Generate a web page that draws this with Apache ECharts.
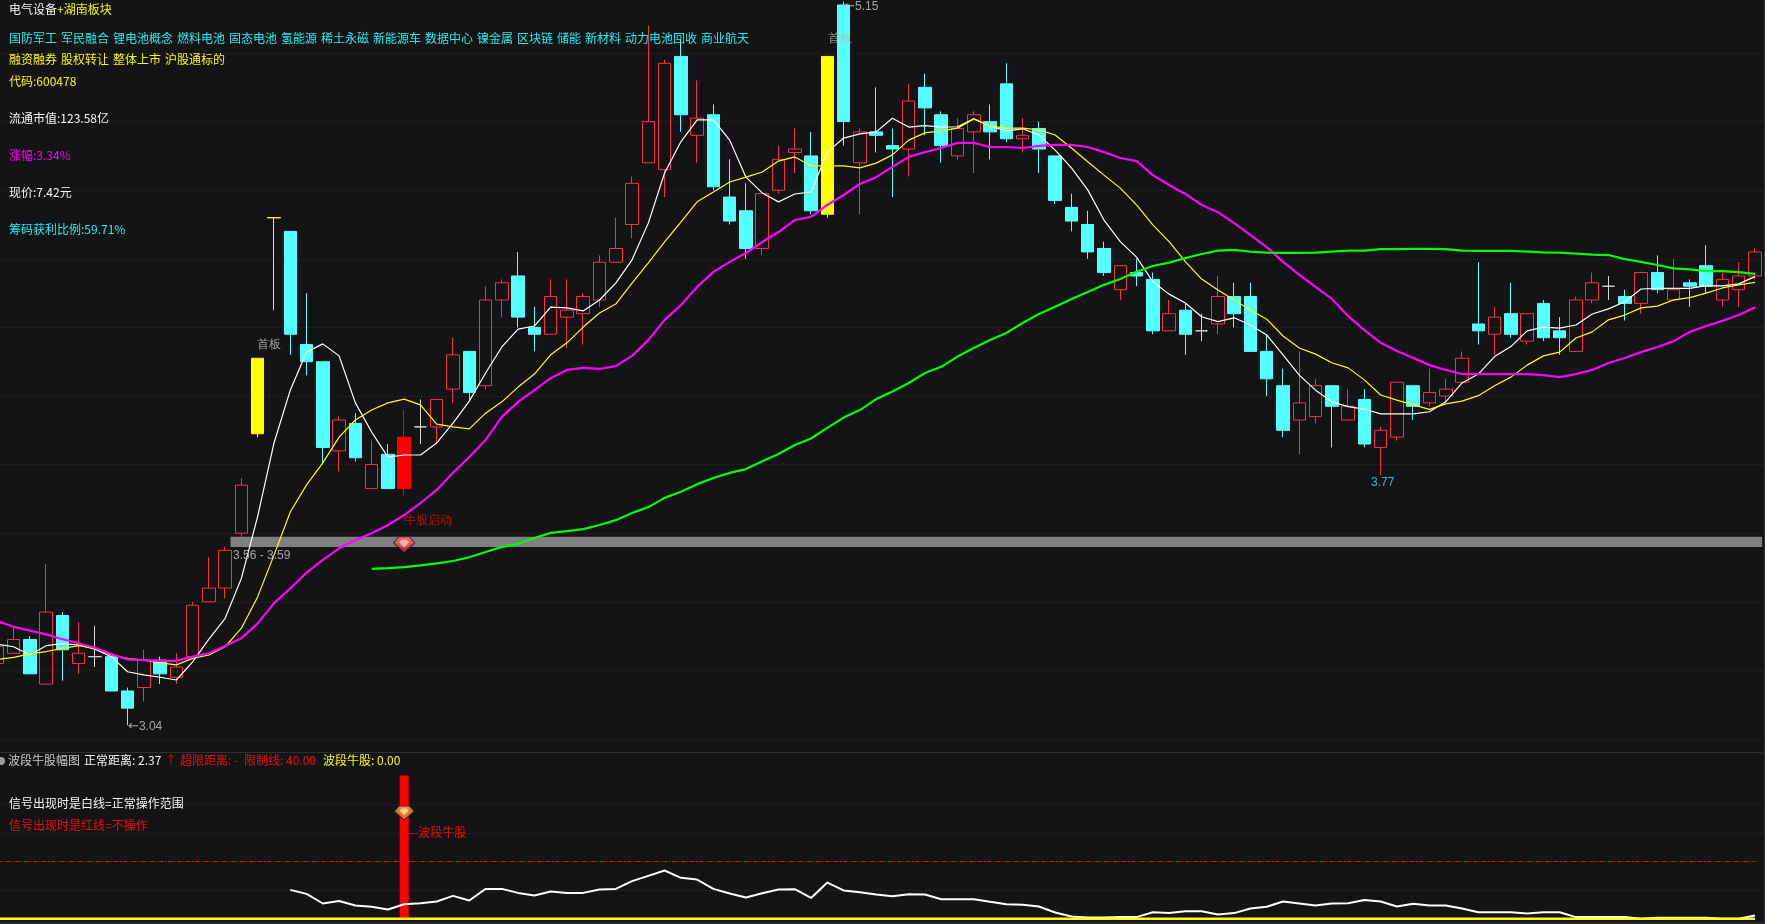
<!DOCTYPE html>
<html>
<head>
<meta charset="utf-8">
<style>html,body{margin:0;padding:0;background:#141315}#c{width:1765px;height:924px}</style>
<script src="https://cdn.jsdelivr.net/npm/echarts@6/dist/echarts.min.js"></script>
</head>
<body>
<div id="c"></div>
<script>
const opens = [3.22,3.25,3.29,3.16,3.36,3.22,3.24,3.24,3.14,3.15,3.23,3.18,3.24,3.40,3.44,3.60,3.89,4.52,4.48,4.15,4.10,3.84,3.92,3.73,3.83,3.73,3.91,3.91,4.02,4.13,4.03,4.28,4.35,4.20,4.18,4.23,4.24,4.28,4.39,4.50,4.68,4.66,4.99,4.76,4.82,4.58,4.54,4.43,4.60,4.71,4.70,4.53,5.14,4.68,4.77,4.73,4.72,4.90,4.82,4.70,4.77,4.80,4.91,4.75,4.78,4.70,4.55,4.50,4.43,4.31,4.36,4.34,4.19,4.25,4.19,4.21,4.29,4.29,4.13,4.03,3.93,3.94,4.03,3.93,3.99,3.85,3.88,4.03,3.98,4.00,4.04,4.21,4.18,4.24,4.16,4.27,4.19,4.13,4.28,4.32,4.29,4.27,4.36,4.28,4.33,4.38,4.28,4.31,4.35];
const closes = [3.27,3.29,3.19,3.37,3.26,3.25,3.24,3.14,3.09,3.23,3.19,3.21,3.39,3.44,3.55,3.74,4.11,4.52,4.18,4.10,3.85,3.93,3.82,3.80,3.73,3.88,3.91,3.99,4.12,4.01,4.28,4.33,4.23,4.18,4.29,4.25,4.29,4.39,4.43,4.62,4.80,4.97,4.82,4.81,4.61,4.51,4.43,4.59,4.69,4.72,4.54,4.99,4.80,4.77,4.76,4.72,4.86,4.84,4.73,4.78,4.82,4.77,4.75,4.76,4.72,4.57,4.51,4.42,4.36,4.38,4.35,4.19,4.24,4.18,4.19,4.29,4.24,4.13,4.05,3.90,3.98,4.03,3.97,3.97,3.86,3.90,4.04,3.97,4.01,4.02,4.11,4.19,4.23,4.18,4.24,4.17,4.17,4.28,4.33,4.32,4.27,4.36,4.31,4.31,4.32,4.32,4.34,4.35,4.42];
const lows = [3.20,3.25,3.19,3.16,3.17,3.19,3.21,3.14,3.04,3.11,3.16,3.16,3.24,3.40,3.41,3.59,3.88,4.25,4.12,4.06,3.80,3.78,3.81,3.73,3.73,3.71,3.86,3.86,3.98,3.99,4.02,4.23,4.20,4.13,4.18,4.14,4.15,4.26,4.39,4.46,4.68,4.58,4.77,4.68,4.60,4.50,4.40,4.41,4.59,4.65,4.53,4.52,4.73,4.53,4.71,4.58,4.64,4.76,4.68,4.69,4.65,4.69,4.74,4.71,4.65,4.56,4.48,4.40,4.35,4.28,4.32,4.18,4.19,4.12,4.16,4.18,4.20,4.13,4.00,3.88,3.83,3.92,3.85,3.93,3.85,3.77,3.87,3.93,3.97,3.98,4.04,4.15,4.12,4.17,4.15,4.16,4.12,4.13,4.27,4.28,4.22,4.24,4.30,4.28,4.26,4.30,4.26,4.26,4.34];
const highs = [3.27,3.33,3.30,3.51,3.37,3.34,3.33,3.24,3.15,3.26,3.24,3.25,3.40,3.53,3.56,3.76,4.11,4.52,4.48,4.30,4.10,3.94,3.95,3.87,3.86,3.96,3.99,3.99,4.17,4.13,4.32,4.34,4.42,4.26,4.34,4.34,4.30,4.41,4.52,4.64,5.08,4.98,5.04,4.92,4.85,4.69,4.62,4.59,4.73,4.78,4.77,4.99,5.15,4.78,4.90,4.78,4.91,4.94,4.83,4.81,4.83,4.85,4.97,4.81,4.80,4.70,4.59,4.54,4.45,4.38,4.40,4.36,4.28,4.27,4.24,4.35,4.33,4.33,4.18,4.08,4.13,4.05,4.03,4.02,4.02,3.91,4.04,4.03,4.08,4.05,4.13,4.39,4.26,4.33,4.24,4.28,4.23,4.29,4.36,4.35,4.31,4.36,4.41,4.40,4.34,4.44,4.36,4.39,4.43];

const maWhite = [3.276,3.269,3.245,3.272,3.278,3.274,3.262,3.240,3.196,3.187,3.180,3.172,3.225,3.291,3.352,3.469,3.650,3.863,4.017,4.128,4.152,4.117,3.980,3.895,3.822,3.828,3.828,3.863,3.921,3.985,4.067,4.143,4.195,4.204,4.259,4.257,4.248,4.280,4.329,4.397,4.504,4.650,4.741,4.805,4.805,4.746,4.638,4.592,4.566,4.589,4.595,4.711,4.752,4.764,4.770,4.810,4.784,4.788,4.784,4.785,4.808,4.787,4.773,4.779,4.761,4.717,4.665,4.601,4.513,4.450,4.405,4.333,4.297,4.271,4.231,4.217,4.228,4.207,4.178,4.120,4.061,4.017,3.983,3.969,3.962,3.948,3.948,3.948,3.954,3.983,4.038,4.064,4.115,4.144,4.190,4.201,4.198,4.207,4.239,4.254,4.275,4.312,4.314,4.314,4.314,4.322,4.321,4.327,4.348];
const maYellow = [3.232,3.238,3.248,3.255,3.264,3.272,3.264,3.245,3.235,3.230,3.222,3.216,3.235,3.245,3.269,3.323,3.415,3.536,3.662,3.741,3.805,3.880,3.930,3.959,3.980,3.991,3.974,3.918,3.910,3.904,3.950,3.983,4.026,4.064,4.120,4.155,4.201,4.242,4.268,4.329,4.388,4.449,4.507,4.566,4.595,4.624,4.638,4.653,4.685,4.697,4.671,4.671,4.671,4.665,4.679,4.703,4.746,4.767,4.773,4.781,4.808,4.787,4.781,4.781,4.776,4.761,4.723,4.683,4.644,4.606,4.557,4.499,4.450,4.392,4.341,4.309,4.280,4.251,4.224,4.175,4.140,4.122,4.097,4.082,4.047,4.003,3.988,3.974,3.961,3.977,3.985,4.001,4.030,4.055,4.090,4.117,4.128,4.169,4.187,4.222,4.236,4.257,4.262,4.280,4.287,4.300,4.315,4.324,4.331];
const maMagenta = [3.344,3.327,3.316,3.305,3.291,3.279,3.266,3.248,3.232,3.230,3.228,3.228,3.240,3.250,3.271,3.294,3.337,3.396,3.439,3.485,3.522,3.556,3.580,3.600,3.624,3.653,3.688,3.726,3.776,3.822,3.872,3.939,3.983,4.017,4.052,4.076,4.082,4.079,4.087,4.117,4.163,4.222,4.265,4.318,4.362,4.391,4.417,4.449,4.478,4.513,4.522,4.557,4.586,4.618,4.638,4.668,4.697,4.711,4.723,4.738,4.738,4.726,4.726,4.723,4.729,4.732,4.732,4.726,4.711,4.694,4.685,4.644,4.615,4.589,4.557,4.536,4.504,4.469,4.434,4.391,4.353,4.318,4.283,4.233,4.192,4.155,4.131,4.111,4.090,4.076,4.064,4.064,4.064,4.064,4.064,4.061,4.055,4.064,4.076,4.096,4.111,4.128,4.143,4.160,4.187,4.204,4.219,4.236,4.259];
const maGreen = [null,null,null,null,null,null,null,null,null,null,null,null,null,null,null,null,null,null,null,null,null,null,null,3.496,3.498,3.501,3.506,3.512,3.519,3.530,3.545,3.560,3.569,3.586,3.601,3.606,3.612,3.624,3.638,3.659,3.676,3.703,3.721,3.743,3.761,3.776,3.787,3.810,3.831,3.857,3.876,3.907,3.937,3.959,3.991,4.013,4.038,4.067,4.085,4.115,4.140,4.163,4.184,4.213,4.239,4.260,4.283,4.303,4.324,4.341,4.362,4.379,4.389,4.402,4.414,4.424,4.426,4.421,4.418,4.417,4.417,4.418,4.421,4.424,4.424,4.428,4.428,4.429,4.429,4.428,4.424,4.423,4.423,4.423,4.421,4.419,4.418,4.415,4.412,4.411,4.399,4.391,4.382,4.372,4.369,4.364,4.364,4.361,4.356];

const normalDistance = [null,null,null,null,null,null,null,null,null,null,null,null,null,null,null,null,null,null,20.2,17.4,10.7,12.5,9.3,8.4,6.5,10.2,10.9,12.1,16.0,12.8,20.9,20.9,18.1,16.3,19.1,18.1,18.1,20.4,20.9,26.3,30.0,33.7,28.6,27.4,20.9,17.7,14.9,17.9,20.4,20.7,14.6,25.3,19.8,18.6,17.0,15.8,17.2,17.0,13.7,13.7,13.7,11.9,10.2,9.8,8.6,4.4,1.6,0.9,0.9,1.2,1.2,4.6,4.0,5.3,5.3,3.0,4.0,7.2,8.4,12.1,10.7,9.3,10.7,10.9,13.2,12.1,8.6,10.5,9.3,9.3,7.2,4.6,4.6,4.6,3.7,4.6,4.6,1.2,1.2,1.2,1.2,0,0.7,0.7,0.7,0.7,0,0,2.37];
const limitValue = 40;
const waveValue = 0;
const signalValue = 100;
const gemPrice = 3.566;
const gemSubValue = 73.8;

const tagsTheme = ['国防军工','军民融合','锂电池概念','燃料电池','固态电池','氢能源','稀土永磁','新能源车','数据中心','镍金属','区块链','储能','新材料','动力电池回收','商业航天'];
const tagsMargin = ['融资融券','股权转让','整体上市','沪股通标的'];

const categories = opens.map((_, i) => 'K' + (i + 1));
const yellowBars = [16, 51];
const solidRedBars = [25];
const limitBar = 17;
const signalBar = 25;
const bandStartBar = 15;

const BG = '#141315', RED = '#f83048', CYAN = '#54ffff', DOJI = '#d6d6d6';
const FONT = '12px "Noto Sans CJK SC","Noto Sans",sans-serif';

const candleData = opens.map((o, i) => {
  const item = { value: [o, closes[i], lows[i], highs[i]] };
  if (yellowBars.includes(i)) item.itemStyle = { color: '#ffff00', borderColor: '#ffff00' };
  if (solidRedBars.includes(i)) item.itemStyle = { color: '#ff0000', borderColor: '#ff0000' };
  return item;
});
const limitTop = opens.map((o, i) => i === limitBar ? [o, closes[i], closes[i], closes[i]] : ['-', '-', '-', '-']);

function note(idx, price, text, color, dx, dy, pos) {
  return { value: [idx, price], label: { show: true, formatter: text, color, offset: [dx, dy], position: pos || 'right', font: FONT, distance: 0,
    rich: { a: { fontFamily: 'DejaVu Sans', fontSize: 13, color } } } };
}
const notes = [
  note(8, 3.04, '{a|←}3.04', '#c8c8c8', 0, 1),
  note(52, 5.15, '{a|←}5.15', '#c8c8c8', 0, 5),
  note(85, 3.77, '3.77', '#58d2f0', 2, 1, 'bottom'),
  note(16, 4.11, '首板', '#c4c4c4', -1, -14),
  note(51, 4.99, '首板', '#b8b8b8', 0, -18),
  note(15, 3.56, '3.56 - 3.59', '#c8c8c8', -9, 9),
  note(25, 3.59, '牛股启动', '#e80f0f', -1, -16)
];

function txt(x, y, text, fill) {
  return { type: 'text', z: 50, silent: true, x, y, style: { text, fill, font: FONT, textVerticalAlign: 'middle' } };
}
const graphics = [
  txt(9, 9.5, '电气设备', '#f4f4f4'), txt(57, 9.5, '+湖南板块', '#f8f800'),
  txt(9, 81, '代码:600478', '#f8f800'),
  txt(9, 118, '流通市值:123.58亿', '#f4f4f4'),
  txt(9, 155, '涨幅:3.34%', '#f800f8'),
  txt(9, 192, '现价:7.42元', '#f4f4f4'),
  txt(9, 229, '筹码获利比例:59.71%', '#22eeee'),
  txt(8, 760.5, '波段牛股幅图', '#c8c8c8'),
  txt(84, 760.5, '正常距离: 2.37', '#f4f4f4'),
  txt(165, 760.5, '↑', '#e80f0f'),
  txt(180, 760.5, '超限距离: -', '#e80f0f'),
  txt(244, 760.5, '限制线: 40.00', '#e80f0f'),
  txt(323, 760.5, '波段牛股: 0.00', '#f8f800'),
  txt(9, 803.5, '信号出现时是白线=正常操作范围', '#f4f4f4'),
  txt(9, 825.5, '信号出现时是红线=不操作', '#e80f0f'),
  txt(410, 832, '--波段牛股', '#e80f0f'),
  { type: 'circle', z: 50, silent: true, shape: { cx: 1, cy: 761, r: 4 }, style: { fill: '#9a9a9a' } },
  { type: 'line', z: 40, silent: true, shape: { x1: 0, y1: 752.5, x2: 1765, y2: 752.5 }, style: { stroke: '#303034', lineWidth: 1 } },
  { type: 'line', z: 40, silent: true, shape: { x1: 0, y1: 923, x2: 1765, y2: 923 }, style: { stroke: '#3a3a3e', lineWidth: 1 } },
  { type: 'line', z: 40, silent: true, shape: { x1: 1764.5, y1: 0, x2: 1764.5, y2: 924 }, style: { stroke: '#303034', lineWidth: 1 } }
];
let tx = 9;
tagsTheme.forEach(t => { graphics.push(txt(tx, 38, t, '#22eeee')); tx += t.length * 12 + 4; });
tx = 9;
tagsMargin.forEach(t => { graphics.push(txt(tx, 59.5, t, '#f8f800')); tx += t.length * 12 + 4; });

const gemPath = 'path://M5 0 H16 L21 6 L10.5 16 L0 6 Z';
const gemFacet = 'path://M3 0 H9 L12 3 L6 10 L0 3 Z';
function gemStyle(top, bottom) {
  return { color: { type: 'linear', x: 0, y: 0, x2: 0, y2: 1, colorStops: [{ offset: 0, color: top }, { offset: 1, color: bottom }] }, borderColor: '#2a1414', borderWidth: 1 };
}
const splitDots = { show: true, showMinLine: false, showMaxLine: false, lineStyle: { color: '#3e3e40', type: [1, 3], width: 1 } };
const hiddenAxis = { axisLine: { show: false }, axisTick: { show: false }, axisLabel: { show: false } };
function lineSeries(name, data, color, width, z) {
  return { name, type: 'line', data, showSymbol: false, symbol: 'none', silent: true, z, connectNulls: false,
           lineStyle: { color, width }, itemStyle: { color } };
}

const option = {
  backgroundColor: BG,
  animation: false,
  tooltip: { show: false },
  grid: [
    { left: -10.8, width: 1773.9, top: -15.6, height: 823.2, outerBoundsMode: 'none' },
    { left: -10.8, width: 1773.9, top: 775.5, height: 143.333, outerBoundsMode: 'none' }
  ],
  xAxis: [
    Object.assign({ type: 'category', gridIndex: 0, data: categories, boundaryGap: true }, hiddenAxis),
    Object.assign({ type: 'category', gridIndex: 1, data: categories, boundaryGap: true }, hiddenAxis)
  ],
  yAxis: [
    Object.assign({ type: 'value', gridIndex: 0, min: 2.8, max: 5.2, interval: 0.2, splitLine: splitDots }, hiddenAxis),
    Object.assign({ type: 'value', gridIndex: 1, min: 0, max: 100, interval: 20, splitLine: splitDots }, hiddenAxis)
  ],
  graphic: graphics,
  series: [
    { name: 'band', type: 'custom', silent: true, z: 1, clip: false,
      data: [[bandStartBar, 3.56, 3.59]],
      renderItem: (params, api) => {
        const a = api.coord([api.value(0), api.value(2)]);
        const b = api.coord([api.value(0), api.value(1)]);
        const cs = params.coordSys;
        return { type: 'rect', shape: { x: a[0] - 11, y: a[1], width: cs.x + cs.width + 10 - a[0], height: b[1] - a[1] }, style: { fill: '#808080' } };
      } },
    { name: 'K', type: 'candlestick', data: candleData, barWidth: 13, silent: true, z: 2, clip: false,
      itemStyle: { color: 'rgba(0,0,0,0)', color0: CYAN, borderColor: RED, borderColor0: CYAN, borderColorDoji: DOJI, borderWidth: 1 } },
    { name: 'limitTop', type: 'candlestick', data: limitTop, barWidth: 13, silent: true, z: 2, clip: false,
      itemStyle: { color: '#ffff00', color0: '#ffff00', borderColor: '#ffff00', borderColor0: '#ffff00', borderColorDoji: '#ffff00', borderWidth: 1 } },
    lineSeries('MAwhite', maWhite, '#ffffff', 1.2, 3),
    lineSeries('MAyellow', maYellow, '#ffff00', 1.2, 3),
    lineSeries('MAmagenta', maMagenta, '#ff00ff', 2.2, 3),
    lineSeries('MAgreen', maGreen, '#00ff00', 2.2, 3),
    { name: 'gem', type: 'scatter', silent: true, z: 5, symbol: gemPath, symbolSize: [21, 16],
      data: [[signalBar, gemPrice]], itemStyle: gemStyle('#ff7078', '#d8202c') },
    { name: 'gemFacet', type: 'scatter', silent: true, z: 6, symbol: gemFacet, symbolSize: [10, 8], symbolOffset: [0, -1],
      data: [[signalBar, gemPrice]], itemStyle: { color: '#ffc0c4' } },
    { name: 'notes', type: 'scatter', silent: true, z: 7, symbolSize: 1, itemStyle: { color: 'rgba(0,0,0,0)' }, data: notes },

    { name: 'signal', type: 'bar', xAxisIndex: 1, yAxisIndex: 1, silent: true, barWidth: 9, z: 2,
      data: opens.map((_, i) => i === signalBar ? signalValue : null), itemStyle: { color: '#ff0000' } },
    Object.assign(lineSeries('limit', opens.map(() => limitValue), '#f01010', 1, 3), { xAxisIndex: 1, yAxisIndex: 1, lineStyle: { color: '#f01010', width: 1, type: [4, 2, 1, 2] } }),
    Object.assign(lineSeries('normal', normalDistance, '#ffffff', 2, 3), { xAxisIndex: 1, yAxisIndex: 1 }),
    Object.assign(lineSeries('wave', opens.map(() => waveValue), '#ffff00', 2.5, 4), { xAxisIndex: 1, yAxisIndex: 1, clip: false }),
    { name: 'subGem', type: 'scatter', xAxisIndex: 1, yAxisIndex: 1, silent: true, z: 5, symbol: gemPath, symbolSize: [20, 14],
      data: [[signalBar, gemSubValue]], itemStyle: gemStyle('#f8b050', '#e07818') },
    { name: 'subGemFacet', type: 'scatter', xAxisIndex: 1, yAxisIndex: 1, silent: true, z: 6, symbol: gemFacet, symbolSize: [9, 7], symbolOffset: [0, -1],
      data: [[signalBar, gemSubValue]], itemStyle: { color: '#ffe0a8' } }
  ]
};
const chart = echarts.init(document.getElementById('c'), null, { renderer: 'canvas', width: 1765, height: 924 });
chart.setOption(option);
</script>
</body>
</html>
